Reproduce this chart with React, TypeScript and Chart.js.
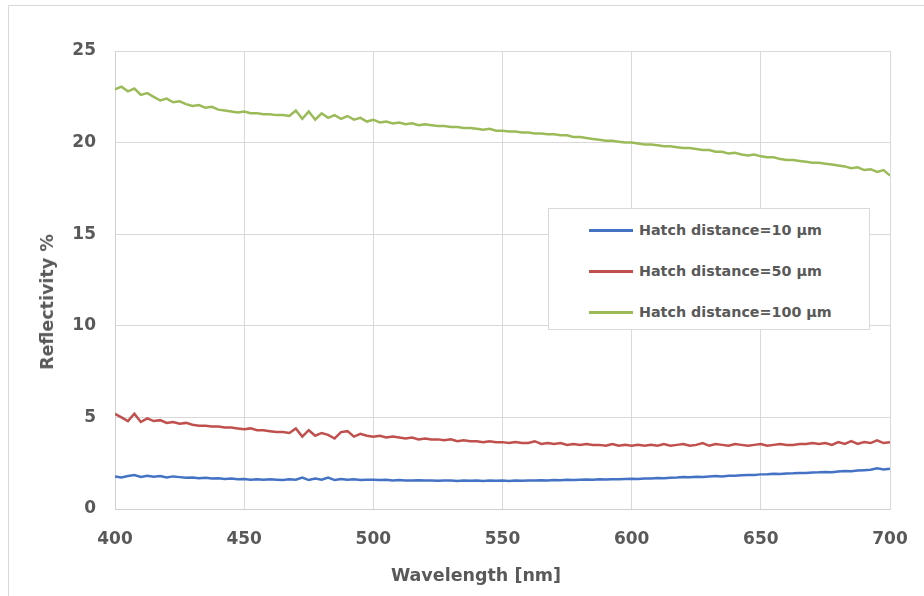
import React, { useEffect, useRef } from "react";
import { Chart, registerables } from "chart.js";

Chart.register(...registerables);

const wavelengths = [
  400, 402.5, 405, 407.5, 410, 412.5, 415, 417.5, 420, 422.5, 425, 427.5, 430, 432.5, 435, 437.5, 440, 442.5, 445, 447.5,
  450, 452.5, 455, 457.5, 460, 462.5, 465, 467.5, 470, 472.5, 475, 477.5, 480, 482.5, 485, 487.5, 490, 492.5, 495, 497.5,
  500, 502.5, 505, 507.5, 510, 512.5, 515, 517.5, 520, 522.5, 525, 527.5, 530, 532.5, 535, 537.5, 540, 542.5, 545, 547.5,
  550, 552.5, 555, 557.5, 560, 562.5, 565, 567.5, 570, 572.5, 575, 577.5, 580, 582.5, 585, 587.5, 590, 592.5, 595, 597.5,
  600, 602.5, 605, 607.5, 610, 612.5, 615, 617.5, 620, 622.5, 625, 627.5, 630, 632.5, 635, 637.5, 640, 642.5, 645, 647.5,
  650, 652.5, 655, 657.5, 660, 662.5, 665, 667.5, 670, 672.5, 675, 677.5, 680, 682.5, 685, 687.5, 690, 692.5, 695, 697.5,
  700,
];

const hatch10 = [
  1.78, 1.72, 1.8, 1.85, 1.75, 1.82, 1.76, 1.8, 1.72, 1.78, 1.74, 1.7, 1.72, 1.68, 1.7, 1.66, 1.68, 1.64, 1.66, 1.62,
  1.64, 1.6, 1.63, 1.6, 1.62, 1.6, 1.58, 1.62, 1.6, 1.72, 1.58, 1.66, 1.6, 1.72, 1.58, 1.64, 1.6, 1.62, 1.58, 1.6,
  1.6, 1.58, 1.6, 1.56, 1.58, 1.56, 1.55, 1.57, 1.55, 1.56, 1.54, 1.56, 1.55, 1.53, 1.56, 1.54, 1.55, 1.53, 1.55, 1.54,
  1.55, 1.53, 1.56, 1.54, 1.56, 1.55, 1.57, 1.56, 1.58, 1.57, 1.6, 1.58, 1.6, 1.61, 1.6, 1.62, 1.61, 1.63, 1.62, 1.64,
  1.65, 1.64, 1.67, 1.66, 1.69, 1.68, 1.71, 1.72, 1.74, 1.73, 1.76, 1.75, 1.78, 1.8, 1.78, 1.82, 1.81, 1.84, 1.86, 1.85,
  1.89, 1.9, 1.92, 1.91, 1.94, 1.95, 1.97, 1.96, 1.99, 2.0, 2.02, 2.01, 2.05, 2.07, 2.06, 2.1, 2.12, 2.14, 2.22, 2.16,
  2.2,
];

const hatch50 = [
  5.2, 5.0, 4.8, 5.2, 4.75, 4.95, 4.8, 4.85, 4.7, 4.75, 4.65, 4.7, 4.6, 4.55, 4.55, 4.5, 4.5, 4.45, 4.45, 4.4,
  4.35, 4.4, 4.3, 4.3, 4.25, 4.2, 4.2, 4.15, 4.4, 3.95, 4.3, 4.0, 4.15, 4.05, 3.85, 4.2, 4.25, 3.95, 4.1, 4.0,
  3.95, 4.0, 3.9, 3.95, 3.9, 3.85, 3.9, 3.8, 3.85, 3.8, 3.8, 3.75, 3.8, 3.7, 3.75, 3.7, 3.7, 3.65, 3.7, 3.65,
  3.65, 3.6, 3.65, 3.6, 3.6, 3.7, 3.55, 3.6, 3.55, 3.6, 3.5, 3.55, 3.5, 3.55, 3.5, 3.5, 3.45, 3.55, 3.45, 3.5,
  3.45, 3.5, 3.45, 3.5, 3.45, 3.55, 3.45, 3.5, 3.55, 3.45, 3.5, 3.6, 3.45, 3.55, 3.5, 3.45, 3.55, 3.5, 3.45, 3.5,
  3.55, 3.45, 3.5, 3.55, 3.5, 3.5, 3.55, 3.55, 3.6, 3.55, 3.6, 3.5, 3.65, 3.55, 3.7, 3.55, 3.65, 3.6, 3.75, 3.6,
  3.65,
];

const hatch100 = [
  22.9, 23.05, 22.8, 22.95, 22.6, 22.7, 22.5, 22.3, 22.4, 22.2, 22.25, 22.1, 22.0, 22.05, 21.9, 21.95, 21.8, 21.75, 21.7, 21.65,
  21.7, 21.6, 21.6, 21.55, 21.55, 21.5, 21.5, 21.45, 21.75, 21.3, 21.7, 21.25, 21.6, 21.35, 21.5, 21.3, 21.45, 21.25, 21.35, 21.15,
  21.25, 21.1, 21.15, 21.05, 21.1, 21.0, 21.05, 20.95, 21.0, 20.95, 20.9, 20.9, 20.85, 20.85, 20.8, 20.8, 20.75, 20.7, 20.75, 20.65,
  20.65, 20.6, 20.6, 20.55, 20.55, 20.5, 20.5, 20.45, 20.45, 20.4, 20.4, 20.3, 20.3, 20.25, 20.2, 20.15, 20.1, 20.1, 20.05, 20.0,
  20.0, 19.95, 19.9, 19.9, 19.85, 19.8, 19.8, 19.75, 19.7, 19.7, 19.65, 19.6, 19.6, 19.5, 19.5, 19.4, 19.45, 19.35, 19.3, 19.35,
  19.25, 19.2, 19.2, 19.1, 19.05, 19.05, 19.0, 18.95, 18.9, 18.9, 18.85, 18.8, 18.75, 18.7, 18.6, 18.65, 18.5, 18.55, 18.4, 18.5,
  18.2,
];

const seriesLabels = ["Hatch distance=10 µm", "Hatch distance=50 µm", "Hatch distance=100 µm"];
const seriesColors = ["#4472C4", "#C0504D", "#9BBB59"];
const seriesValues = [hatch10, hatch50, hatch100];

const xTitle = "Wavelength [nm]";
const yTitle = "Reflectivity %";

const FONT = "'DejaVu Sans', sans-serif";
const TEXT = "#595959";

export default function App() {
  const ref = useRef<HTMLCanvasElement | null>(null);

  useEffect(() => {
    if (!ref.current) return;
    const chart = new Chart(ref.current, {
      type: "line",
      data: {
        datasets: seriesValues.map((vals, i) => ({
          label: seriesLabels[i],
          data: wavelengths.map((w, j) => ({ x: w, y: vals[j] })),
          borderColor: seriesColors[i],
          backgroundColor: seriesColors[i],
          borderWidth: 2.5,
          pointRadius: 0,
          tension: 0,
        })),
      },
      options: {
        responsive: false,
        animation: false,
        layout: { padding: { left: 0, right: 34, top: 51, bottom: 0 } },
        plugins: { legend: { display: false }, tooltip: { enabled: false } },
        scales: {
          x: {
            type: "linear",
            min: 400,
            max: 700,
            ticks: {
              stepSize: 50,
              padding: 20,
              color: TEXT,
              font: { family: FONT, size: 17, weight: "bold" },
              maxRotation: 0,
            },
            grid: { color: "#d9d9d9", lineWidth: 1, drawTicks: false },
            border: { color: "#d0d0d0", width: 1 },
            afterFit: (s: any) => {
              s.height = 87;
              s.paddingLeft = 0;
              s.paddingRight = 0;
            },
          },
          y: {
            min: 0,
            max: 25,
            ticks: {
              stepSize: 5,
              padding: 19,
              color: TEXT,
              font: { family: FONT, size: 17, weight: "bold" },
            },
            grid: { color: "#d9d9d9", lineWidth: 1, drawTicks: false },
            border: { color: "#d0d0d0", width: 1 },
            afterFit: (s: any) => {
              s.width = 115;
              s.paddingTop = 0;
              s.paddingBottom = 0;
            },
          },
        },
      },
    });
    return () => chart.destroy();
  }, []);

  const titleStyle: React.CSSProperties = {
    position: "absolute",
    fontFamily: FONT,
    fontWeight: "bold",
    fontSize: 17.5,
    color: TEXT,
    whiteSpace: "nowrap",
    lineHeight: "20px",
  };

  return (
    <div
      style={{
        position: "fixed",
        left: 0,
        top: 0,
        width: 924,
        height: 596,
        overflow: "hidden",
        background: "#ffffff",
      }}
    >
      <div
        style={{
          position: "absolute",
          left: 8,
          top: 5,
          width: 940,
          height: 620,
          border: "1px solid #d9d9d9",
          boxSizing: "border-box",
        }}
      />
      <canvas ref={ref} width={924} height={596} style={{ position: "absolute", left: 0, top: 0 }} />
      <div style={{ ...titleStyle, left: 476, top: 575, transform: "translate(-50%, -50%)" }}>{xTitle}</div>
      <div style={{ ...titleStyle, left: 47, top: 302, transform: "translate(-50%, -50%) rotate(-90deg)" }}>{yTitle}</div>
      <div
        style={{
          position: "absolute",
          left: 548,
          top: 208,
          width: 322,
          height: 122,
          border: "1px solid #d9d9d9",
          boxSizing: "border-box",
          background: "#ffffff",
        }}
      >
        {seriesLabels.map((lab, i) => (
          <div
            key={lab}
            style={{
              position: "absolute",
              left: 40,
              top: 11 + i * 41,
              height: 20,
              display: "flex",
              alignItems: "center",
              fontFamily: FONT,
              fontWeight: "bold",
              fontSize: 14.3,
              color: TEXT,
              whiteSpace: "nowrap",
            }}
          >
            <span style={{ display: "inline-block", width: 44, height: 3, background: seriesColors[i], marginRight: 6 }} />
            {lab}
          </div>
        ))}
      </div>
    </div>
  );
}
